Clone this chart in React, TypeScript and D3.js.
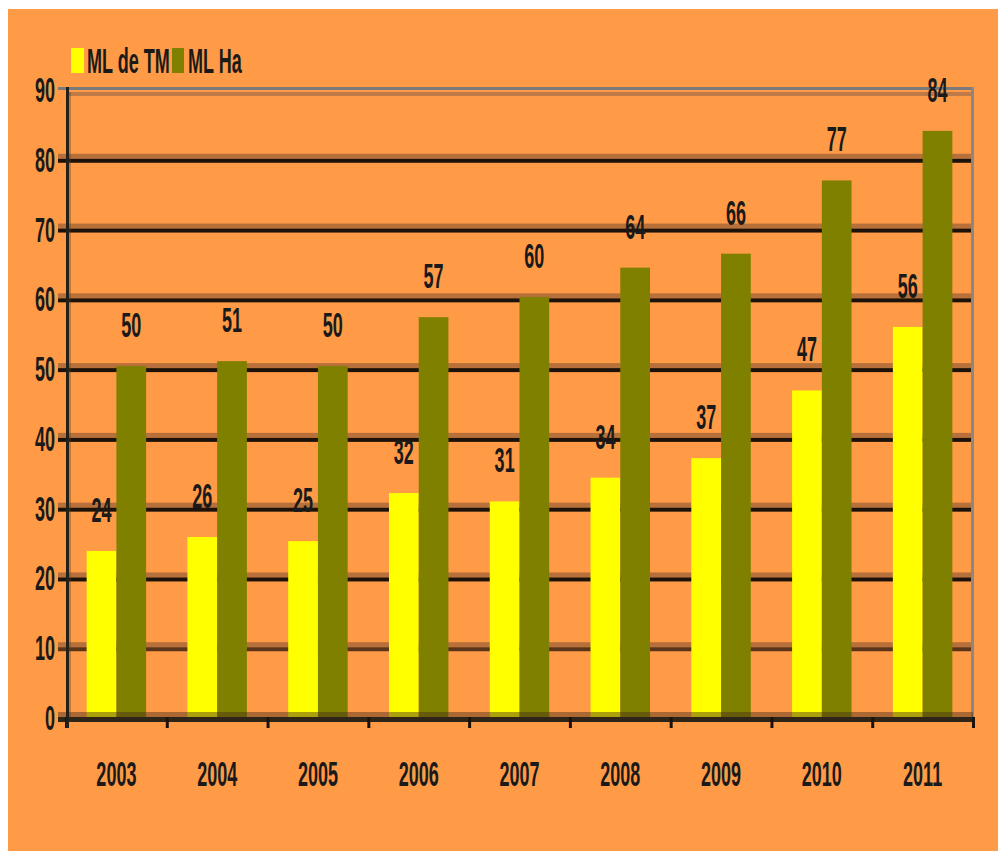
import React from "react";
import * as d3 from "d3";

const years = ["2003", "2004", "2005", "2006", "2007", "2008", "2009", "2010", "2011"];
const mlTM = [23.8, 25.8, 25.2, 32.1, 30.9, 34.3, 37.1, 46.8, 55.9];
const mlHa = [50.3, 51.0, 50.3, 57.3, 60.2, 64.4, 66.4, 76.9, 84.0];
const seriesNames = ["ML de TM", "ML Ha"];
const seriesColors = ["#FFFF00", "#808000"];
const yTicks = [0, 10, 20, 30, 40, 50, 60, 70, 80, 90];

const W = 998;
const H = 851;
const left = 66;
const right = 973;
const top = 89;
const bottom = 717;
const FONT = "'Liberation Sans', Arial, sans-serif";
const fmt = d3.format(".0f");

function Txt({ x, y, children, anchor = "middle" }: any) {
  return (
    <text
      transform={`translate(${x},${y}) scale(0.5,1)`}
      textAnchor={anchor}
      fontFamily={FONT}
      fontWeight="bold"
      fontSize={36}
      fill="#1a1a1a"
    >
      {children}
    </text>
  );
}

export default function App() {
  const x = d3.scaleBand<string>().domain(years).range([left, right]).paddingInner(0.41).paddingOuter(0.205);
  const xs = d3.scaleBand<string>().domain(seriesNames).range([0, x.bandwidth()]);
  const y = d3.scaleLinear().domain([0, 90]).range([bottom, top]);
  const step = x.step();
  const series = [mlTM, mlHa];

  return (
    <svg width={W} height={H} style={{ position: "absolute", left: 0, top: 0 }}>
      <rect x={0} y={0} width={W} height={H} fill="#ffffff" />
      <rect x={8} y={9} width={W - 8} height={H - 9} fill="#FF9A47" />

      {/* gridlines */}
      {yTicks.filter((t) => t > 0 && t < 90).map((t) => (
        <g key={t}>
          <rect x={left - 8} y={y(t) - 5} width={right - left + 8} height={5} fill="#B8703A" />
          <rect x={left - 8} y={y(t)} width={right - left + 8} height={4} fill={t === 10 ? "#5A3418" : "#1C120A"} />
        </g>
      ))}
      {/* top line */}
      <rect x={left - 8} y={y(90) - 2} width={right - left + 8} height={3} fill="#7A7A7A" />
      <rect x={left} y={y(90) + 3} width={right - left} height={4} fill="#BE7A48" />
      {/* right border */}
      <rect x={right - 2} y={y(90) - 2} width={3} height={bottom - y(90) + 2} fill="#888888" />

      {/* bars */}
      {series.map((vals, si) =>
        years.map((yr, i) => (
          <rect
            key={`${si}-${yr}`}
            x={(x(yr) as number) + (xs(seriesNames[si]) as number)}
            y={y(vals[i])}
            width={xs.bandwidth()}
            height={bottom - y(vals[i])}
            fill={seriesColors[si]}
          />
        ))
      )}

      {/* zero axis */}
      <rect x={left - 8} y={bottom - 5} width={right - left + 8} height={5} fill="rgba(70,45,25,0.45)" />
      <rect x={left - 8} y={bottom} width={right - left + 8} height={5} fill="#2E2418" />
      {years.map((yr, i) => (
        <rect key={`t${yr}`} x={left + i * step - 1} y={bottom} width={3} height={11} fill="#1C120A" />
      ))}
      <rect x={right - 1} y={bottom} width={3} height={11} fill="#1C120A" />

      {/* y axis */}
      <rect x={left} y={y(90) - 2} width={3} height={bottom - y(90) + 13} fill="#222018" />
      <rect x={left + 3} y={y(90) + 3} width={2} height={bottom - y(90) - 3} fill="rgba(90,60,30,0.35)" />

      {/* y tick labels */}
      {yTicks.map((t) => (
        <Txt key={`yl${t}`} x={55} y={y(t) + 13} anchor="end">
          {t}
        </Txt>
      ))}

      {/* x labels */}
      {years.map((yr) => (
        <Txt key={`xl${yr}`} x={(x(yr) as number) + x.bandwidth() / 2} y={786}>
          {yr}
        </Txt>
      ))}

      {/* data labels */}
      {series.map((vals, si) =>
        years.map((yr, i) => (
          <Txt
            key={`dl${si}-${yr}`}
            x={(x(yr) as number) + (xs(seriesNames[si]) as number) + xs.bandwidth() / 2}
            y={y(vals[i]) - 29}
          >
            {fmt(vals[i])}
          </Txt>
        ))
      )}

      {/* legend */}
      <rect x={71} y={48} width={13} height={25} fill={seriesColors[0]} />
      <Txt x={87} y={73} anchor="start">{seriesNames[0]}</Txt>
      <rect x={172} y={48} width={12} height={25} fill={seriesColors[1]} />
      <Txt x={188} y={73} anchor="start">{seriesNames[1]}</Txt>
    </svg>
  );
}
